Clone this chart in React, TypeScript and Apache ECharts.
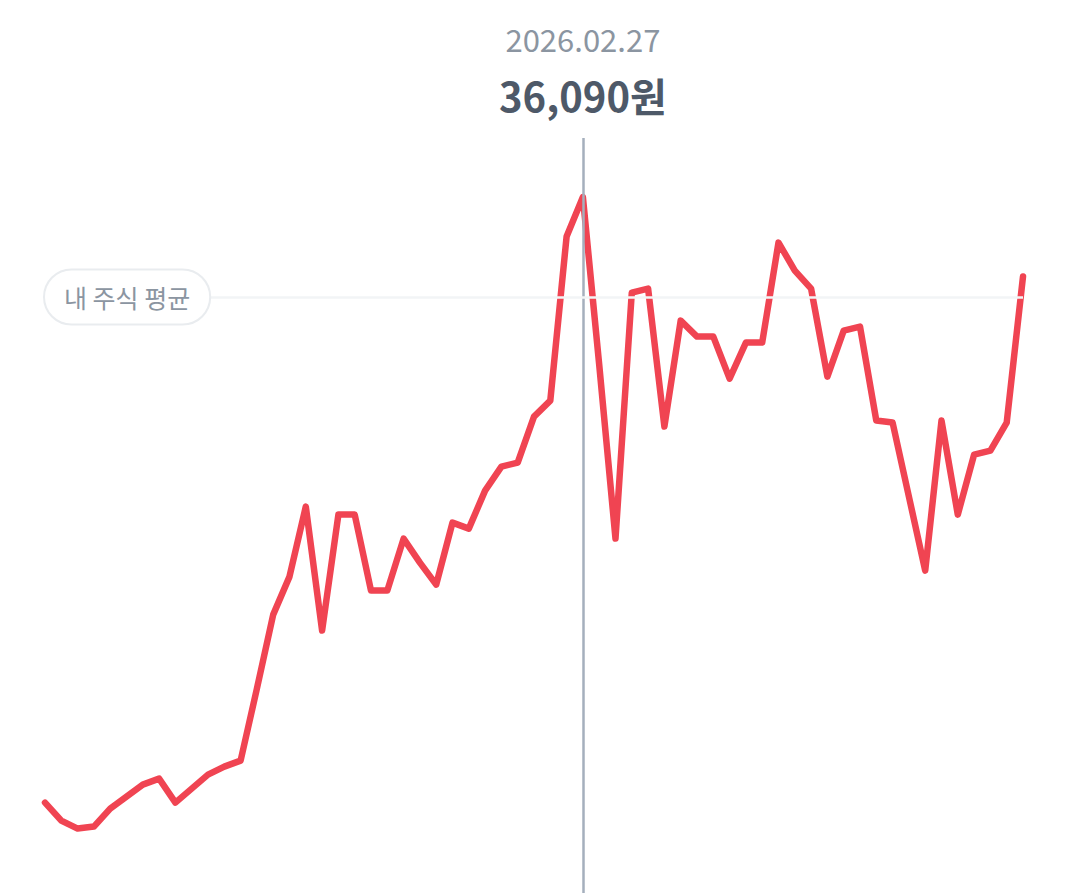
import React, { useEffect, useRef } from "react";
import * as echarts from "echarts";

const dates = [
  "2026.01.08", "2026.01.09", "2026.01.12", "2026.01.13", "2026.01.14", "2026.01.15", "2026.01.16",
  "2026.01.19", "2026.01.20", "2026.01.21", "2026.01.22", "2026.01.23",
  "2026.01.26", "2026.01.27", "2026.01.28", "2026.01.29", "2026.01.30",
  "2026.02.02", "2026.02.03", "2026.02.04", "2026.02.05", "2026.02.06",
  "2026.02.09", "2026.02.10", "2026.02.11", "2026.02.12", "2026.02.13",
  "2026.02.19", "2026.02.20", "2026.02.23", "2026.02.24", "2026.02.25", "2026.02.26", "2026.02.27",
  "2026.03.03", "2026.03.04", "2026.03.05", "2026.03.06",
  "2026.03.09", "2026.03.10", "2026.03.11", "2026.03.12", "2026.03.13",
  "2026.03.16", "2026.03.17", "2026.03.18", "2026.03.19", "2026.03.20",
  "2026.03.23", "2026.03.24", "2026.03.25", "2026.03.26", "2026.03.27",
  "2026.03.30", "2026.03.31", "2026.04.01", "2026.04.02", "2026.04.03",
  "2026.04.06", "2026.04.07", "2026.04.08",
];

const prices = [
  20950, 20500, 20300, 20350, 20800, 21100, 21400, 21550, 20950, 21300,
  21650, 21850, 22000, 23800, 25650, 26600, 28350, 25250, 28150, 28150,
  26250, 26250, 27550, 26950, 26400, 27950, 27800, 28750, 29350, 29450,
  30600, 31000, 35100, 36090, 31900, 27550, 33700, 33800, 30350, 33000,
  32600, 32600, 31550, 32450, 32450, 34950, 34250, 33800, 31600, 32750,
  32850, 30500, 30450, 28600, 26750, 30500, 28150, 29650, 29750, 30450,
  34100,
];

const myAverage = 33590;
const selectedIndex = 33;
const averageLabel = "내 주식 평균";

const FONT = "'Noto Sans CJK KR', 'Noto Sans', sans-serif";

export default function App() {
  const ref = useRef<HTMLDivElement>(null);

  useEffect(() => {
    const chart = echarts.init(ref.current!, null, { renderer: "svg" });
    chart.setOption({
      animation: false,
      grid: { left: 45, right: 57, top: 138, bottom: 0, containLabel: false },
      xAxis: {
        type: "category",
        data: dates,
        boundaryGap: false,
        show: false,
      },
      yAxis: {
        type: "value",
        min: 18690,
        max: 37565,
        show: false,
        splitLine: { show: false },
      },
      series: [
        {
          type: "line",
          data: [],
          z: 1,
          silent: true,
          markLine: {
            silent: true,
            symbol: "none",
            animation: false,
            data: [
              {
                xAxis: selectedIndex,
                lineStyle: { color: "#a5afbd", width: 2.5, type: "solid" },
                label: { show: false },
              },
              {
                yAxis: myAverage,
                lineStyle: { color: "#f2f4f6", width: 2.5, type: "solid" },
                label: {
                  show: true,
                  position: "insideStart",
                  distance: 0,
                  formatter: averageLabel,
                  color: "#8b95a1",
                  fontSize: 25,
                  fontFamily: FONT,
                  backgroundColor: "#ffffff",
                  borderColor: "#e9ecef",
                  borderWidth: 2,
                  borderRadius: 30,
                  padding: [14, 19, 14, 19],
                },
              },
            ],
          },
        },
        {
          type: "line",
          data: prices,
          z: 3,
          symbol: "none",
          silent: true,
          lineStyle: { color: "#f04452", width: 6.5, join: "round", cap: "round" },
        },
      ],
    });

    const cx = chart.convertToPixel({ xAxisIndex: 0 }, selectedIndex) as number;
    chart.setOption({
      graphic: [
        {
          type: "text",
          x: cx,
          y: 38,
          style: {
            text: dates[selectedIndex],
            fill: "#8b95a1",
            font: `400 31px ${FONT}`,
            align: "center",
            verticalAlign: "middle",
          },
        },
        {
          type: "text",
          x: cx,
          y: 95,
          style: {
            text: prices[selectedIndex].toLocaleString("ko-KR") + "원",
            fill: "#4e5968",
            font: `700 40px ${FONT}`,
            align: "center",
            verticalAlign: "middle",
          },
        },
      ],
    });

    return () => chart.dispose();
  }, []);

  return (
    <div
      ref={ref}
      style={{ position: "fixed", left: 0, top: 0, width: 1080, height: 893, background: "#ffffff" }}
    />
  );
}
